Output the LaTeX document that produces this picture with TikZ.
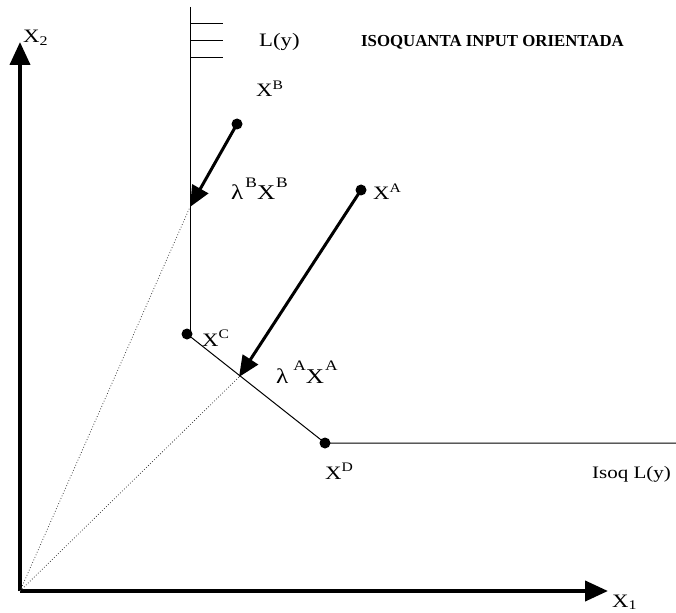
\documentclass[tikz,border=0pt]{standalone}
\usepackage{fontspec}
\setmainfont{Liberation Serif}
\newfontfamily\widefont[FakeStretch=1.2]{Liberation Serif}
\usetikzlibrary{arrows.meta}
\newcommand\smallsup[1]{\raisebox{0.40em}{\fontsize{13}{13}\selectfont #1}}
\newcommand\bigsup[1]{\raisebox{0.58em}{\fontsize{14.5}{14.5}\selectfont #1}}
\begin{document}
\begin{tikzpicture}[x=1pt,y=-1pt,
  axis/.style={line width=4pt,-{Triangle[length=23pt,width=20pt]}},
  moveto/.style={line width=3pt,-{Triangle[length=21pt,width=18pt]}},
  thin line/.style={line width=1pt},
  ray/.style={line width=0.8pt,dotted,black!75},
  dot/.style={circle,fill=black,inner sep=0pt,minimum size=11pt},
  lbl/.style={inner sep=0pt,anchor=base west,font=\widefont\fontsize{19}{21}\selectfont},
  big/.style={inner sep=0pt,anchor=base west,font=\widefont\fontsize{21}{24}\selectfont}]
\useasboundingbox (0,0) rectangle (676,612);
% axes
\coordinate (O) at (20,591);
\coordinate (X2end) at (20,42);
\coordinate (X1end) at (608,591);
\draw[axis] (O) -- (X2end);
\draw[axis] (O) -- (X1end);
\node[lbl] (x2) at (23,43) {X\textsubscript{2}};
\node[lbl] (x1) at (612,607) {X\textsubscript{1}};
% isoquant
\coordinate (Ltop) at (190,7);
\node[dot] (C) at (187,334) {};
\node[dot] (D) at (325,443) {};
\coordinate (Dend) at (676,443);
\draw[thin line] (Ltop) -- (Ltop |- C);
\draw[thin line] (C.center) -- (D.center) -- (Dend);
% hatch
\foreach \yy/\nm in {24/h1,41/h2,58/h3}{
  \coordinate (\nm a) at (190,\yy);
  \coordinate (\nm b) at (223,\yy);
  \draw[thin line] (\nm a) -- (\nm b);
}
% points
\node[dot] (A) at (361,190) {};
\node[dot] (B) at (237,124) {};
\coordinate (tA) at (239,377);
\coordinate (tB) at (190,207);
\draw[ray] (O) -- (tA);
\draw[ray] (O) -- (tB);
\draw[moveto] (A.center) -- (tA);
\draw[moveto] (B.center) -- (tB);
% labels
\node[lbl] (Ly) at (259,47) {L(y)};
\node[lbl] (xB) at (256,97) {X\smallsup{B}};
\node[lbl] (xA) at (373,200) {X\smallsup{A}};
\node[lbl] (xC) at (202,346) {X\smallsup{C}};
\node[lbl] (xD) at (325,479) {X\smallsup{D}};
\node[lbl,font=\widefont\fontsize{17.5}{20}\selectfont] (iso) at (592,478) {Isoq L(y)};
\node[big] (lB) at (231,200) {λ\kern2pt\bigsup{B}X\kern1pt\bigsup{B}};
\node[big] (lA) at (276,383) {λ\kern5pt\bigsup{A}X\kern1pt\bigsup{A}};
\node[inner sep=0pt,anchor=base west,font=\bfseries\fontsize{16.8}{19}\selectfont] (title) at (361,47) {ISOQUANTA INPUT ORIENTADA};
\end{tikzpicture}
\end{document}
